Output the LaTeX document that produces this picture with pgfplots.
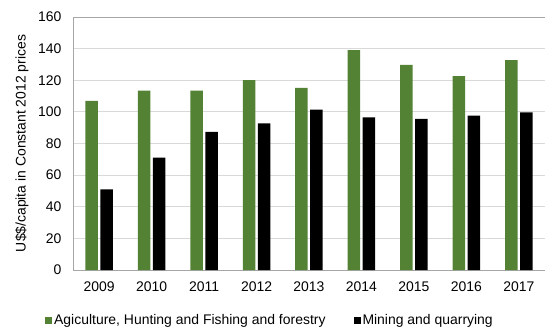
\documentclass[border=0pt]{standalone}
\usepackage{pgfplots}
\pgfplotsset{compat=1.18}
\usepackage{fontspec}
\setmainfont{Liberation Sans}
\definecolor{agri}{HTML}{548235}
\definecolor{gridc}{HTML}{D9D9D9}
\definecolor{framec}{HTML}{A6A6A6}
\begin{document}
\begin{tikzpicture}
\path[use as bounding box] (-73bp,-62bp) rectangle (472bp,270bp);
\begin{axis}[
  at={(0,0)}, anchor=south west,
  scale only axis, width=472bp, height=253bp,
  xmin=-0.5, xmax=8.5, ymin=0, ymax=160,
  ytick={0,20,...,160},
  xtick={0,...,8},
  xticklabels={2009,2010,2011,2012,2013,2014,2015,2016,2017},
  major tick length=0pt,
  ymajorgrids, grid style={gridc, line width=0.8pt},
  axis line style={framec, line width=0.8pt},
  tick label style={font=\fontsize{14}{16}\selectfont},
  /pgf/number format/assume math mode=true,
  yticklabel style={xshift=-8bp},
  xticklabel style={yshift=-8bp},
  ylabel={U\$\$/capita in Constant 2012 prices},
  ylabel style={font=\fontsize{14}{16}\selectfont, at={(axis description cs:0,0.5)}, anchor=center, rotate=0, yshift=51bp},
  ybar, bar width=12.5bp,
  legend columns=2,
  legend style={draw=none, fill=none, font=\fontsize{14}{16}\selectfont,
    at={(-28bp,-50bp)}, anchor=west, inner sep=0pt,
    /tikz/every even column/.append style={column sep=26bp}},
  legend image code/.code={\fill[#1] (0bp,-3.5bp) rectangle (7bp,3.5bp);},
]
\addplot[fill=agri, draw=none, bar shift=-7.5bp] coordinates {
 (0,107) (1,113.5) (2,113.5) (3,120) (4,115.2) (5,139) (6,129.7) (7,122.6) (8,132.8)};
\addplot[fill=black, draw=none, bar shift=7.5bp] coordinates {
 (0,51) (1,71) (2,87.3) (3,92.8) (4,101.4) (5,96.6) (6,95.5) (7,97.6) (8,99.7)};
\legend{{Agiculture, Hunting and Fishing and forestry}, {Mining and quarrying}}
\end{axis}
\end{tikzpicture}
\end{document}
